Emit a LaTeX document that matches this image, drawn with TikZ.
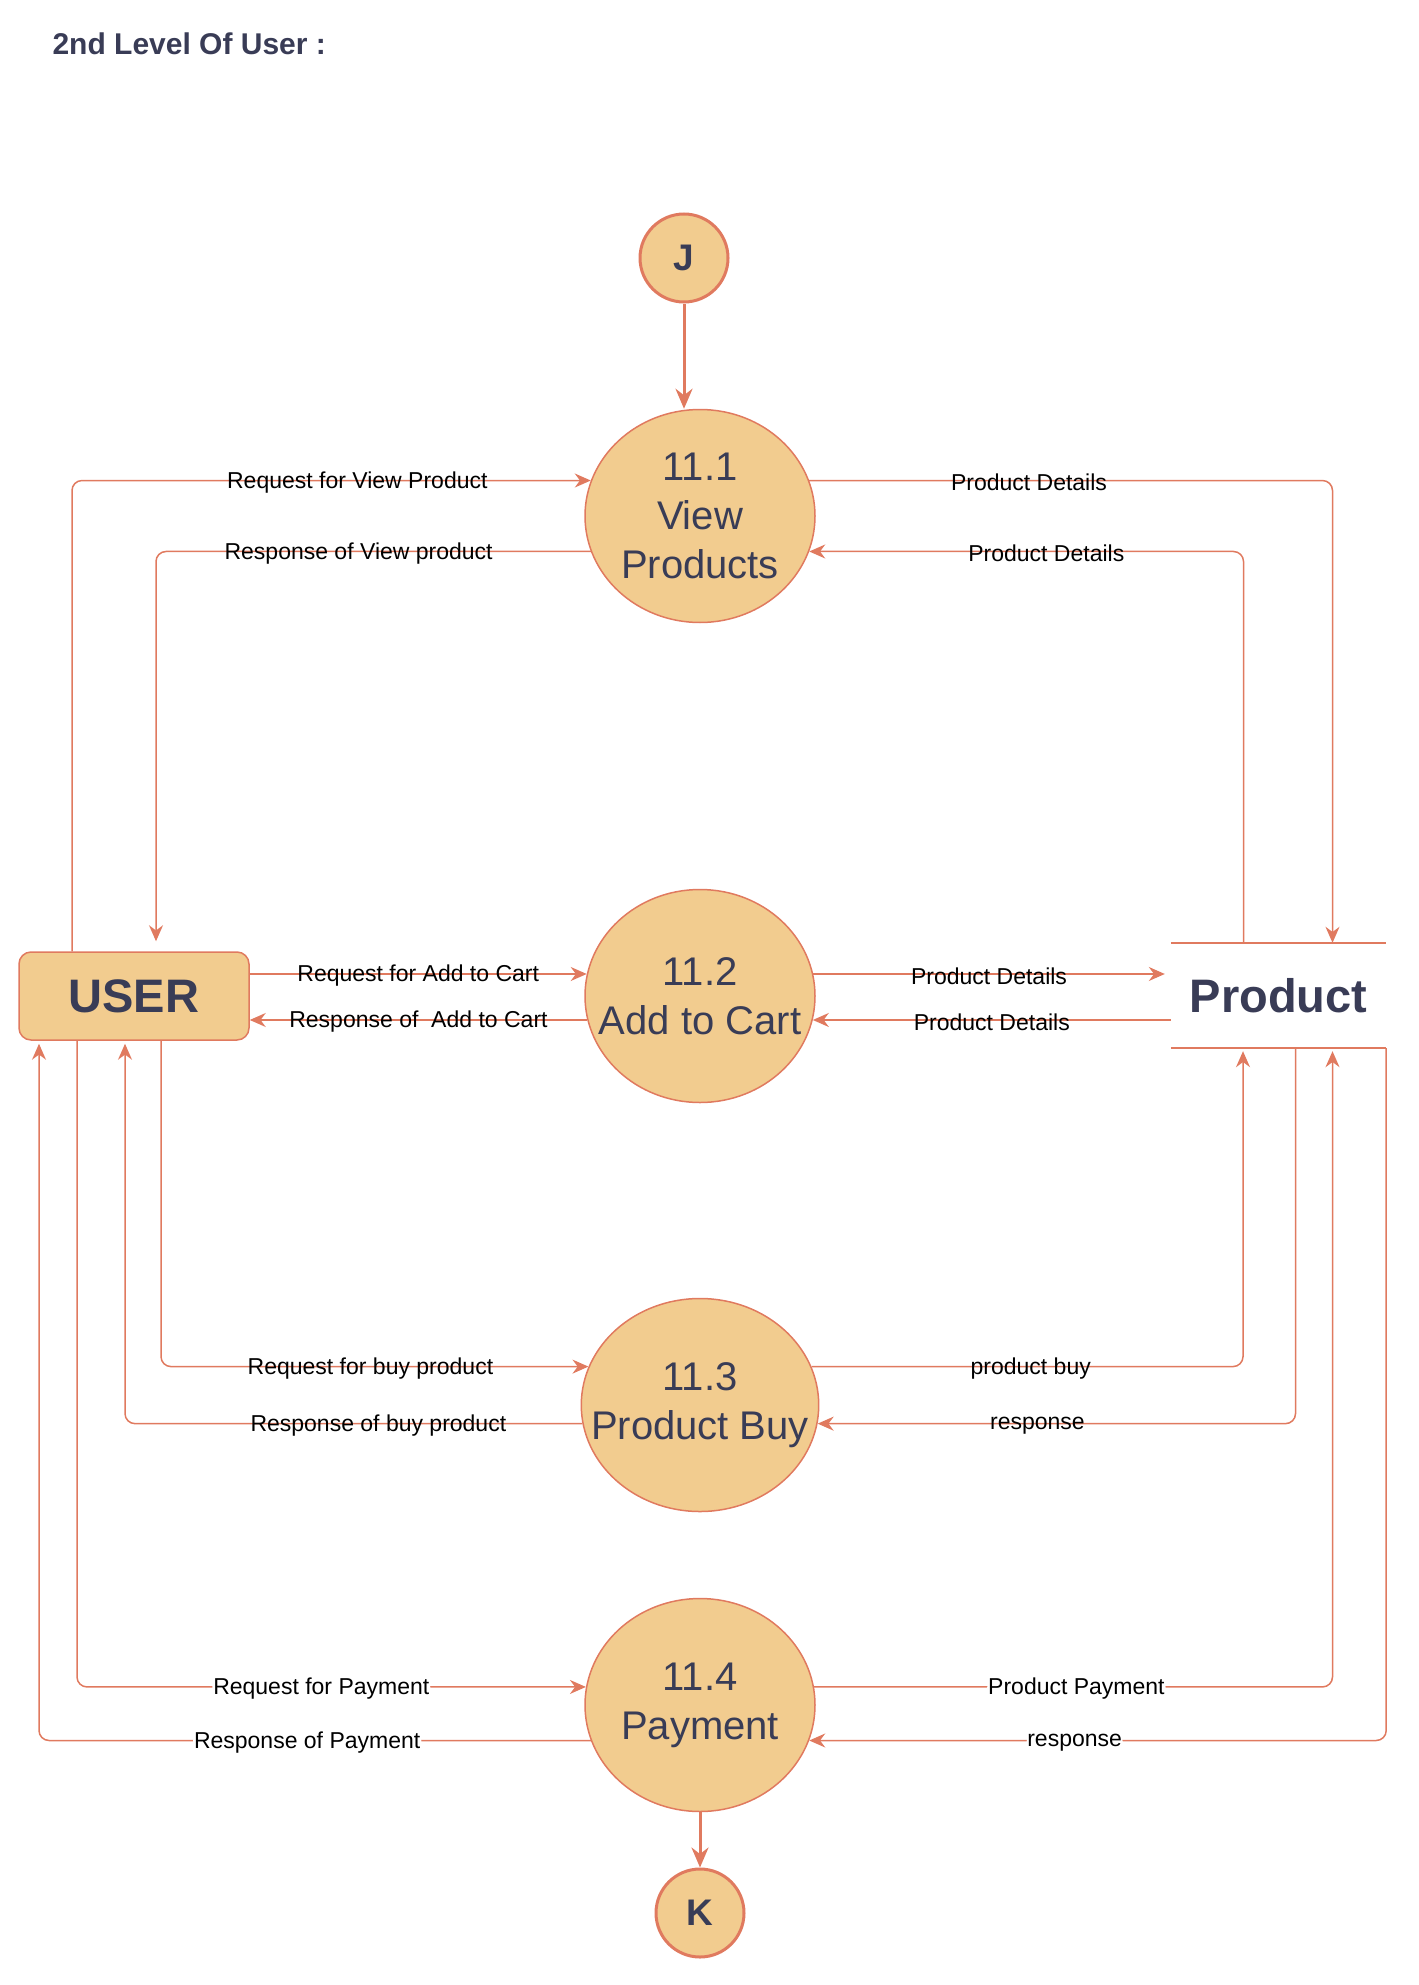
\documentclass[tikz,border=0pt]{standalone}
\usepackage{fontspec}
\setmainfont{Liberation Sans}
\usetikzlibrary{arrows.meta,calc,shapes.geometric}
\definecolor{procfill}{HTML}{F2CC8F}
\definecolor{edge}{HTML}{E07A5F}
\definecolor{ink}{HTML}{393C56}

\begin{document}
\begin{tikzpicture}[x=1pt,y=-1pt,
  proc/.style={ellipse, draw=edge, fill=procfill, line width=1.5pt, minimum width=230pt, minimum height=213pt,
    inner sep=-25pt, align=center, text=ink, font=\fontsize{40}{49}\selectfont},
  conn/.style={circle, draw=edge, fill=procfill, line width=3pt, minimum size=88pt, inner sep=0pt,
    text=ink, font=\fontsize{37}{44}\selectfont\bfseries},
  flow/.style={draw=edge, line width=1.5pt, rounded corners=10pt, -{Stealth[length=16pt,width=14pt]}},
  lbl/.style={font=\fontsize{23}{27}\selectfont, text=black, inner sep=1pt, yshift=-2pt},
  lblw/.style={lbl, fill=white}]
  \useasboundingbox (0,0) rectangle (1418,1985);
  \node[anchor=west, text=ink, font=\fontsize{30}{35}\selectfont\bfseries] (title) at (49,44) {2nd Level Of User :};

  % processes
  \node[proc] (p1) at (700,516) {11.1\\View\\Products};
  \node[proc] (p2) at (700,996) {11.2\\Add to Cart};
  \node[proc] (p3) at (700,1405) {11.3\\Product Buy};
  \node[proc] (p4) at (700,1705) {11.4\\Payment};
  \node[conn] (j) at (684,258) {J};
  \node[conn] (k) at (700,1913) {K};

  % entity and store
  \node[rounded corners=12pt, draw=edge, fill=procfill, line width=1.5pt, minimum width=230pt, minimum height=88pt,
    text=ink, font=\fontsize{47}{52}\selectfont\bfseries] (user) at (134,996) {USER};
  \node[minimum width=215pt, minimum height=105pt, text=ink, font=\fontsize{47}{52}\selectfont\bfseries] (prod) at (1278.5,995.5) {Product};
  \draw[edge, line width=1.5pt] (prod.north west) -- (prod.north east);
  \draw[edge, line width=1.5pt] (prod.south west) -- (prod.south east);

  % connectors J / K
  \draw[edge, line width=3pt, -{Stealth[length=20pt,width=17pt]}] (j.south) -- (j.south |- p1.north);
  \draw[edge, line width=3pt, -{Stealth[length=20pt,width=17pt]}] (p4.south) -- (k.north);

  % 11.1
  \draw[flow] ([xshift=-62pt]user.north) |- (p1.162) node[lbl,pos=0.775]{Request for View Product};
  \draw[flow] (p1.198) -| ($(user.north)+(22,-10)$) node[lbl,pos=0.267]{Response of View product};
  \draw[flow] (p1.18) -| ($(prod.north)+(54,0)$) node[lbl,pos=0.21]{Product Details};
  \draw[flow] ($(prod.north)+(-35,0)$) |- (p1.342) node[lbl,pos=0.727]{Product Details};

  % 11.2
  \draw[flow] (user.east |- p2.169) -- (p2.169) node[lbl,midway]{Request for Add to Cart};
  \draw[flow] (p2.192) -- (user.east |- p2.192) node[lbl,midway]{Response of~ Add to Cart};
  \draw[flow] (p2.11) -- ($(prod.west |- p2.11)+(-6,0)$) node[lbl,midway]{Product Details};
  \draw[flow] (prod.west |- p2.348) -- (p2.348) node[lbl,midway]{Product Details};

  % 11.3
  \draw[flow] ($(user.south)+(27,0)$) |- (p3.161) node[lbl,pos=0.745]{Request for buy product};
  \draw[flow] (p3.189) -| ($(user.south)+(-9,3)$) node[lbl,pos=0.223]{Response of buy product};
  \draw[flow] (p3.19) -| ($(prod.south)+(-35.5,3)$) node[lbl,pos=0.254]{product buy};
  \draw[flow] ($(prod.south)+(17,0)$) |- (p3.351) node[lbl,pos=0.77]{response};

  % 11.4
  \draw[flow] ($(user.south)+(-57,0)$) |- (p4.171) node[lblw,pos=0.74]{Request for Payment};
  \draw[flow] (p4.198) -| ($(user.south)+(-95,3)$) node[lblw,pos=0.257]{Response of Payment};
  \draw[flow] (p4.9) -| ($(prod.south)+(54,3)$) node[lblw,pos=0.253]{Product Payment};
  \draw[flow] (prod.south east) |- (p4.342) node[lblw,pos=0.77]{response};
\end{tikzpicture}
\end{document}
